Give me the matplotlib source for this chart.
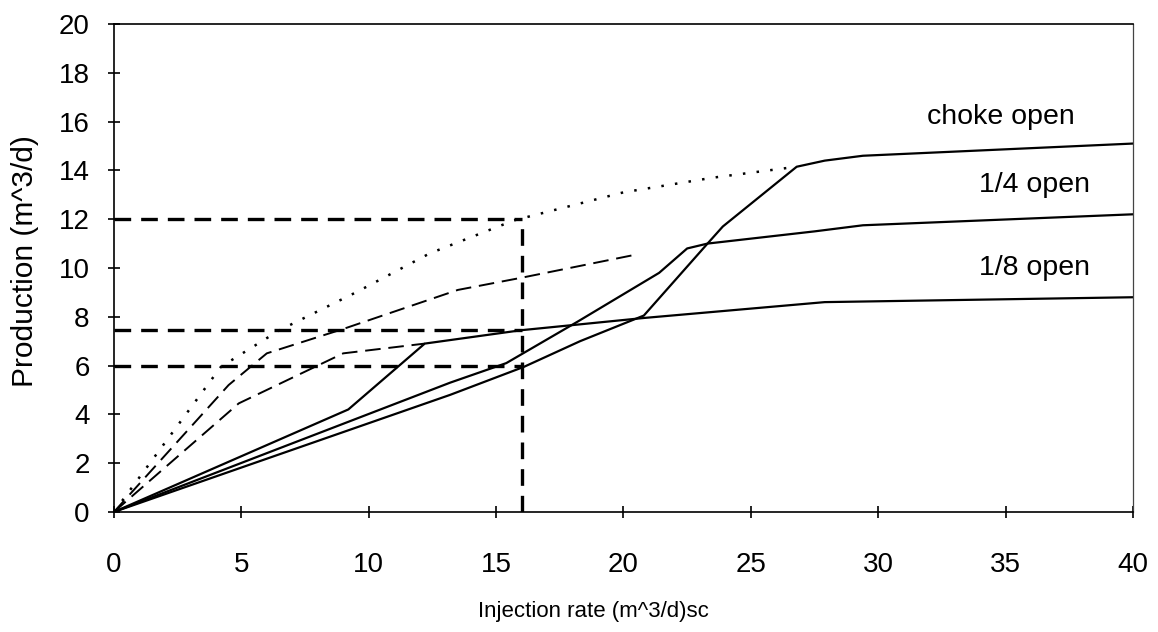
import matplotlib
matplotlib.use("Agg")
import matplotlib.pyplot as plt

plt.rcParams['font.family'] = ['Liberation Sans', 'DejaVu Sans']

# choke fully open: measured (solid) and the dotted branch
choke_x = [0, 13.2, 16.1, 18.3, 20.8, 23.3, 23.9, 26.8, 27.9, 29.4, 40]
choke_y = [0, 4.8, 5.95, 7.0, 8.05, 11.0, 11.7, 14.15, 14.4, 14.6, 15.1]
choke_dot_x = [0, 4.2, 6.5, 9.5, 12.4, 15.7, 20, 23.5, 26.8]
choke_dot_y = [0, 5.95, 7.45, 9.0, 10.6, 11.95, 13.1, 13.7, 14.15]

# 1/4 open
quarter_x = [0, 13.2, 15.4, 18.2, 21.4, 22.5, 23.3, 27.5, 29.4, 40]
quarter_y = [0, 5.3, 6.1, 7.8, 9.8, 10.8, 11.0, 11.5, 11.75, 12.2]
quarter_dash_x = [0, 4.5, 6.0, 9.0, 13.5, 16.0, 20.5]
quarter_dash_y = [0, 5.2, 6.5, 7.5, 9.1, 9.6, 10.55]

# 1/8 open
eighth_x = [0, 9.2, 12.2, 16.0, 20.8, 27.9, 40]
eighth_y = [0, 4.2, 6.9, 7.45, 7.95, 8.6, 8.8]
eighth_dash_x = [0, 4.9, 9.0, 12.2]
eighth_dash_y = [0, 4.45, 6.5, 6.9]

# reading lines at injection rate 16
read_x = 16
read_levels = [12, 7.45, 6]

labels = ["choke open", "1/4 open", "1/8 open"]
label_pos = [(37.7, 16.2), (38.3, 13.4), (38.3, 10.0)]

fig = plt.figure(figsize=(11.58, 6.32), dpi=100)
ax = fig.add_axes([0.0984, 0.19, 0.880, 0.772])

lw = 1.6
ax.plot(choke_x, choke_y, color='black', lw=lw)
ax.plot(quarter_x, quarter_y, color='black', lw=lw)
ax.plot(eighth_x, eighth_y, color='black', lw=lw)
ax.plot(choke_dot_x, choke_dot_y, color='black', lw=1.8, ls=(0, (1, 4.5)))
ax.plot(quarter_dash_x, quarter_dash_y, color='black', lw=1.4, ls=(0, (8, 4)))
ax.plot(eighth_dash_x, eighth_dash_y, color='black', lw=1.4, ls=(0, (8, 4)))

for lev in read_levels:
    ax.plot([0, read_x], [lev, lev], color='black', lw=2.4, ls=(0, (5, 3)))
ax.plot([read_x, read_x], [0, max(read_levels)], color='black', lw=2.4,
        ls=(0, (5, 3)))

for txt, (tx, ty) in zip(labels, label_pos):
    ax.text(tx, ty, txt, ha='right', va='center', fontsize=20.5)

ax.set_xlim(0, 40)
ax.set_ylim(0, 20)
ax.set_xticks(range(0, 41, 5))
ax.set_yticks(range(0, 21, 2))
ax.tick_params(direction='inout', length=9, width=1.2, labelsize=20)
ax.tick_params(axis='x', pad=24)
ax.tick_params(axis='y', pad=13)
for s in ax.spines.values():
    s.set_linewidth(1.2)
ax.spines['right'].set_color('#444444')
ax.spines['right'].set_linewidth(0.9)

ax.set_xlabel("Injection rate (m^3/d)sc", fontsize=16)
ax.set_ylabel("Production (m^3/d)", fontsize=21.5)
ax.xaxis.set_label_coords(0.471, -0.183)
ax.yaxis.set_label_coords(-0.074, 0.514)

fig.savefig("out.png", dpi=100)
